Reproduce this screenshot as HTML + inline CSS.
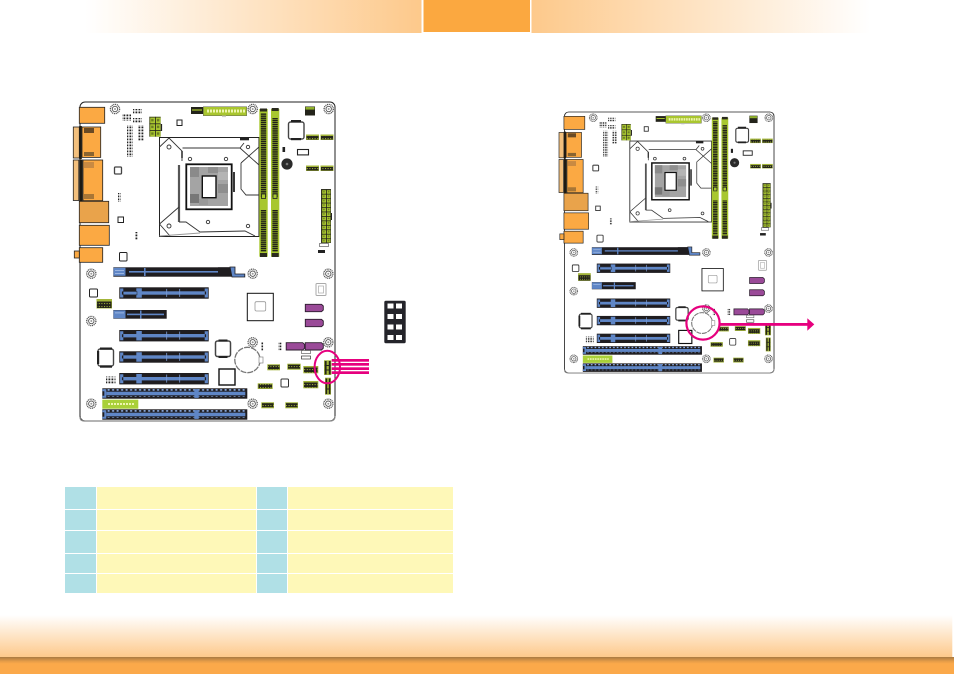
<!DOCTYPE html>
<html><head><meta charset="utf-8"><title>Board connector diagram</title>
<style>html,body{margin:0;padding:0;background:#fff;width:954px;height:674px;overflow:hidden}svg{display:block}</style></head>
<body>
<svg width="954" height="674" viewBox="0 0 954 674" xmlns="http://www.w3.org/2000/svg">
<defs>
<linearGradient id="hl" x1="0" x2="1" y1="0" y2="0"><stop offset="0" stop-color="#fff"/><stop offset="1" stop-color="#fdc98b"/></linearGradient>
<linearGradient id="hr" x1="1" x2="0" y1="0" y2="0"><stop offset="0" stop-color="#fff"/><stop offset="1" stop-color="#fdc98b"/></linearGradient>
<linearGradient id="f1" x1="0" x2="0" y1="0" y2="1"><stop offset="0" stop-color="#fff"/><stop offset="1" stop-color="#fdc98b"/></linearGradient>
<linearGradient id="f2" x1="0" x2="0" y1="0" y2="1"><stop offset="0" stop-color="#a87a42"/><stop offset=".25" stop-color="#e59c48"/><stop offset=".4" stop-color="#fba94a"/><stop offset="1" stop-color="#fba94a"/></linearGradient>
<pattern id="dimm" width="3" height="2.1" patternUnits="userSpaceOnUse"><rect width="3" height="1.5" fill="#1f1f17"/></pattern>
<pattern id="grid" width="4.7" height="4.45" patternUnits="userSpaceOnUse" patternTransform="translate(321.3 189.3)"><rect width="4.7" height="4.45" fill="#a9c62f"/><rect width="4.7" height=".8" fill="#23231a"/><rect width=".8" height="4.45" fill="#23231a"/><rect x="1.8" y="1.7" width="1.6" height="1.4" fill="#6b7d22"/></pattern>
<pattern id="gridc" width="5.7" height="6.67" patternUnits="userSpaceOnUse" patternTransform="translate(149.3 116.7)"><rect width="5.7" height="6.67" fill="#a9c62f"/><rect width="5.7" height=".8" fill="#23231a"/><rect width=".8" height="6.67" fill="#23231a"/><rect x="1.9" y="2.3" width="2.4" height="2.4" fill="#6b7d22"/></pattern>
<pattern id="hdr" width="2.6" height="3" patternUnits="userSpaceOnUse"><rect width="2.6" height="3" fill="#24241a"/><rect x="0" y="0" width="1" height="1.1" fill="#a3b53a"/></pattern>
<pattern id="pins" width="3" height="3" patternUnits="userSpaceOnUse"><rect width="3" height="3" fill="#fff"/><rect x=".5" y=".5" width="1.8" height="1.8" fill="#222"/></pattern>
<pattern id="ticks" width="4.5" height="6" patternUnits="userSpaceOnUse"><rect x=".8" y="0" width="2" height="2.4" fill="#8fb0e8"/></pattern>
<pattern id="wd" width="3" height="3" patternUnits="userSpaceOnUse"><rect width="2" height="3" fill="#eef5b0"/></pattern>
<symbol id="screw" viewBox="-6 -6 12 12" overflow="visible">
<circle r="4.6" fill="none" stroke="#555" stroke-width="1.3" stroke-dasharray="1.1 .7"/><circle r="2.7" fill="none" stroke="#555" stroke-width=".9"/><circle r="1" fill="#999"/>
</symbol>
<g id="hole"><use href="#screw" x="-6" y="-6" width="12" height="12"/></g>
<g id="slotS">
<rect x="0" y="0" width="89.4" height="11.4" fill="#1f1d20"/>
<path d="M.8 1.2H4V4.2H2.6V7.2H4V10.2H.8Z" fill="#5f86c6"/>
<path d="M88.6 1.2H85.4V4.2H86.8V7.2H85.4V10.2H88.6Z" fill="#5f86c6"/>
<rect x="4" y="4" width="81.5" height="3.4" fill="#5f86c6"/>
<rect x="17" y="1" width="5.5" height="9.4" fill="#5f86c6"/>
<rect x="47" y="1.6" width=".8" height="8" fill="#7f9fd8"/><rect x="60" y="1.6" width=".8" height="8" fill="#7f9fd8"/>
</g>
<g id="pciL">
<rect x="0" y="0" width="145" height="10.4" fill="#1f1d20"/>
<rect x="2" y=".8" width="141" height="2" fill="url(#ticks)"/>
<rect x="2" y="7.8" width="141" height="2" fill="url(#ticks)"/>
<rect x="4" y="3.4" width="139" height="3.6" fill="#5f86c6"/>
<path d="M0 1H4V9.4H0V7.4H2V3H0Z" fill="#5f86c6"/>
<rect x="92" y=".8" width="4.4" height="8.8" fill="#5f86c6"/>
</g>
<g id="board">
<rect x="80" y="102" width="255" height="319" rx="5" fill="#fff" stroke="#222" stroke-width="1"/>
<path d="M80 417q0 4 4 4H330q5 0 5-5" fill="none" stroke="#888" stroke-width="1.2"/>

<!-- IO connectors -->
<g stroke="#222" stroke-width=".8">
<rect x="79.3" y="107.3" width="25.4" height="16" fill="#fba943"/>
<rect x="73.3" y="127" width="6" height="31" fill="#f3c07d"/>
<rect x="82" y="127" width="18.7" height="30.4" fill="#fba943"/>
<rect x="73.3" y="160" width="5.5" height="40.5" fill="#f3c07d"/>
<rect x="83" y="160" width="19.7" height="40.7" fill="#fba943"/>
<rect x="79.3" y="201.3" width="29.4" height="21.4" fill="#e9a34b"/>
<rect x="79.3" y="225.3" width="30" height="20" fill="#fba943"/>
<rect x="79.3" y="247.7" width="23.4" height="14.6" fill="#fba943"/>
<rect x="74.3" y="251" width="5" height="7" fill="#fba943"/>
</g>
<rect x="79.2" y="126" width="2.6" height="33" fill="#1e1a12"/><rect x="79.2" y="159.5" width="3.4" height="42" fill="#1e1a12"/>
<rect x="84" y="128" width="10" height="5" fill="#6a4a24"/><rect x="84" y="152" width="10" height="4" fill="#8a6430"/>
<rect x="84" y="162" width="10" height="6" fill="#c98a42"/><rect x="84" y="194" width="10" height="5" fill="#a87636"/>

<!-- small ICs left -->
<g fill="#fff" stroke="#222" stroke-width="1">
<rect x="114.5" y="167" width="7" height="7" rx="1" stroke="#444" stroke-width="1.3"/>
<rect x="118" y="217" width="5.5" height="5.5"/>
<rect x="177" y="120" width="5" height="5.5"/>
<rect x="119.5" y="252.5" width="7.5" height="8.5" rx="1"/>
</g>
<rect x="118" y="193" width="3" height="9" fill="url(#pins)"/>
<rect x="135" y="232" width="3" height="8" fill="url(#pins)"/>
<rect x="133" y="109" width="9" height="4.5" fill="url(#pins)"/>
<rect x="122" y="114" width="9" height="7" fill="url(#pins)"/>
<rect x="133" y="118" width="9" height="5" fill="url(#pins)"/>
<rect x="127" y="125" width="6" height="32" fill="url(#pins)"/>
<rect x="138" y="125" width="5.5" height="16" fill="url(#pins)"/>

<!-- CPU power -->
<rect x="149.3" y="116.7" width="11.4" height="20" fill="url(#gridc)"/>
<rect x="160.7" y="124" width="1.4" height="7" fill="#222"/>

<!-- ATX top -->
<rect x="191" y="107" width="12.3" height="7" fill="#23231a"/><rect x="192" y="109.4" width="10" height="1.2" fill="#a9c62f"/>
<rect x="203.3" y="106.7" width="43.4" height="9" fill="#a9c62f" stroke="#444" stroke-width=".4"/>
<rect x="206" y="109.5" width="39" height="3" fill="url(#wd)"/>
<rect x="222" y="115.7" width="4" height="1.4" fill="#ccc"/>

<!-- Socket -->
<rect x="159.5" y="137.5" width="99.5" height="99" fill="#fff" stroke="#222" stroke-width="1"/>
<g fill="none" stroke="#333" stroke-width=".9">
<path d="M159.5 147L169 138L182 151V161"/>
<path d="M182.5 148H240"/>
<path d="M182 151V158" stroke-width="1.6"/>
<path d="M179 165V222" stroke-width="2.2" stroke="#555"/>
<path d="M159.5 224L179 207M159.5 224L170 236M179 222H186L200 232M200 232L245 231L255 236"/>
<path d="M240 148L259 165M240 148L244 143M241 163L259 147M241 163V189L246 195H259"/>
<path d="M234 172V192" stroke-width="1.8" stroke="#222"/>
<path d="M159.5 236L200 233" stroke="#999"/>
<circle cx="169" cy="147" r="2"/><circle cx="190" cy="159" r="1.7"/><circle cx="226" cy="159" r="1.7"/><circle cx="248" cy="147" r="1.7"/>
<circle cx="169" cy="226" r="2"/><circle cx="208" cy="222" r="1.7"/><circle cx="248" cy="226" r="1.7"/>
</g>
<rect x="240" y="137.5" width="9" height="2.8" fill="#222"/>
<rect x="186.3" y="164.3" width="45.4" height="45" fill="#fff" stroke="#111" stroke-width="1.8"/>
<rect x="190" y="167" width="38" height="39" fill="#a4a4a4"/>
<rect x="190" y="167" width="9" height="10" fill="#8a8a8a"/><rect x="208" y="167" width="10" height="6" fill="#8f8f8f"/><rect x="218" y="172" width="10" height="8" fill="#b4b4b4"/>
<rect x="190" y="194" width="9" height="9" fill="#777"/><rect x="199" y="199" width="9" height="6" fill="#999"/><rect x="218" y="184" width="10" height="9" fill="#8e8e8e"/>
<rect x="202.3" y="176" width="13.7" height="21.7" fill="#fff" stroke="#111" stroke-width="1.4"/>

<!-- DIMMs -->
<g>
<rect x="259.3" y="109" width="8.4" height="147.7" fill="#a8c72f"/>
<rect x="260.8" y="113" width="5.4" height="84" fill="url(#dimm)"/>
<rect x="260.8" y="210" width="5.4" height="42" fill="url(#dimm)"/>
<rect x="261.5" y="194" width="4" height="4.5" fill="#a8c72f" stroke="#222" stroke-width=".8"/>
<rect x="260" y="108.5" width="7" height="3" fill="#2a2a1e"/><rect x="260" y="253" width="7" height="4" fill="#2a2a1e"/>
<rect x="271" y="109" width="8.3" height="147.7" fill="#a8c72f"/>
<rect x="272.4" y="118" width="5.4" height="79" fill="url(#dimm)"/>
<rect x="272.4" y="210" width="5.4" height="42" fill="url(#dimm)"/>
<rect x="273" y="194" width="4" height="4.5" fill="#a8c72f" stroke="#222" stroke-width=".8"/>
<rect x="271.7" y="108" width="7" height="3" fill="#2a2a1e"/><rect x="271.7" y="253" width="7" height="4" fill="#2a2a1e"/>
</g>

<!-- top right -->
<rect x="305" y="106.5" width="10" height="9" fill="#23231a"/><rect x="305.5" y="107" width="9" height="2.6" fill="#8fb02c"/>
<rect x="288.5" y="122" width="15.5" height="17" rx="2" fill="#fff" stroke="#444" stroke-width="1.4"/>
<rect x="291" y="120" width="10" height="2.2" fill="#222"/><rect x="291" y="138" width="10" height="2.2" fill="#222"/>
<g>
<rect x="306" y="134.5" width="13" height="5.5" fill="#a3b53a"/><rect x="306.5" y="136" width="12" height="3.5" fill="url(#hdr)"/>
<rect x="320.5" y="134.5" width="13" height="5.5" fill="#a3b53a"/><rect x="321" y="136" width="12" height="3.5" fill="url(#hdr)"/>
<rect x="306" y="165.5" width="13" height="5.5" fill="#a3b53a"/><rect x="306.5" y="167" width="12" height="3.5" fill="url(#hdr)"/>
<rect x="320.5" y="165.5" width="13" height="5.5" fill="#a3b53a"/><rect x="321" y="167" width="12" height="3.5" fill="url(#hdr)"/>
</g>
<rect x="282.5" y="147" width="2.6" height="5" fill="#222"/>
<rect x="297.5" y="149.5" width="11" height="5.4" fill="#fff" stroke="#222" stroke-width="1.1"/>
<circle cx="287" cy="164" r="5.6" fill="#2a2a2a"/><circle cx="287" cy="164" r="1.3" fill="#777"/>

<!-- 24 pin -->
<rect x="321.3" y="189.3" width="9.4" height="53.4" fill="url(#grid)" stroke="#23231a" stroke-width=".5"/>
<rect x="330.7" y="213" width="1.3" height="7" fill="#222"/>
<rect x="319.5" y="243.5" width="9" height="3" fill="#fff" stroke="#444" stroke-width=".6"/>
<rect x="318" y="250" width="7" height="3" fill="#222"/>

<!-- PCIe slots -->
<rect x="113.3" y="267.3" width="120" height="9.4" fill="#1f1d20"/>
<rect x="113.5" y="267.8" width="12" height="8" fill="#5f86c6"/><rect x="115" y="270" width="9" height=".8" fill="#a9c0e6"/><rect x="115" y="273" width="9" height=".8" fill="#a9c0e6"/>
<rect x="129" y="271" width="104" height="1.6" fill="#5f86c6"/>
<rect x="144" y="268" width="1.6" height="8" fill="#5f86c6"/>
<rect x="218" y="267.3" width="15" height="7" fill="#1f1d20"/>
<path d="M230 267H235V274H244.8V277H232Z" fill="#5f86c6" stroke="#1f1d20" stroke-width=".8"/>
<use href="#slotS" x="119.3" y="287.3"/>
<rect x="123" y="291.5" width="14" height="3.4" fill="none" stroke="#1f1d20" stroke-width=".5"/>
<rect x="113.3" y="310" width="53.4" height="8.7" fill="#1f1d20"/>
<rect x="113.5" y="310.3" width="12" height="8" fill="#5f86c6"/><rect x="115" y="312.5" width="9" height=".8" fill="#a9c0e6"/>
<rect x="127" y="313.6" width="37" height="1.6" fill="#5f86c6"/><rect x="140" y="310.5" width="1.5" height="8" fill="#5f86c6"/>
<use href="#slotS" x="119.3" y="330"/>
<use href="#slotS" x="119.3" y="351.3"/>
<use href="#slotS" x="119.3" y="373"/>
<rect x="106" y="376.5" width="9.5" height="8" fill="url(#pins)"/>
<use href="#pciL" x="102.3" y="388.3"/>
<rect x="102.3" y="399.7" width="36" height="9" fill="#a9d038"/>
<rect x="108" y="403" width="26" height="2" fill="url(#wd)"/>
<use href="#pciL" x="102.3" y="409.3"/>

<!-- Left ICs -->
<rect x="89.5" y="289" width="8" height="8" rx="1" fill="#fff" stroke="#222" stroke-width="1"/>
<rect x="96.5" y="299" width="15.5" height="9.5" fill="#a3b53a"/><rect x="97" y="301.5" width="14.5" height="6.5" fill="url(#hdr)"/>
<rect x="98" y="349" width="15.5" height="17" rx="2" fill="#fff" stroke="#444" stroke-width="1.4"/>
<rect x="100" y="347.5" width="12" height="2.2" fill="#222"/><rect x="100" y="365.5" width="12" height="2.2" fill="#222"/><rect x="97" y="351" width="2.2" height="13" fill="#222"/>

<!-- Chipset -->
<rect x="247.3" y="293.3" width="26" height="27.4" fill="#fff" stroke="#111" stroke-width="1"/>
<rect x="255" y="301.7" width="10.7" height="9.3" rx="1.5" fill="#fff" stroke="#999" stroke-width=".8"/>
<rect x="316" y="283.5" width="10" height="12" rx="1" fill="#fff" stroke="#aaa" stroke-width="1"/><rect x="318.5" y="286" width="5" height="7" fill="none" stroke="#aaa" stroke-width=".7"/>

<!-- SATA -->
<g fill="#9a4a98" stroke="#2b1c2c" stroke-width=".9">
<path d="M305.3 304.3H321.5L323.3 306V310L321.5 311.7H305.3Z"/>
<path d="M305.3 319.3H321.5L323.3 321V325L321.5 326.7H305.3Z"/>
<path d="M286.2 342.7H302.8L304.6 344.5V348.2L302.8 350H286.2Z"/>
<path d="M305.2 342.7H321.5L323.3 344.5V348.2L321.5 350H305.2Z"/>
</g>
<rect x="278" y="342.7" width="4.5" height="7.5" fill="url(#pins)"/>
<rect x="260.5" y="342.5" width="2.6" height="8" fill="url(#pins)"/>
<rect x="301.5" y="350.5" width="9" height="3" fill="#fff" stroke="#666" stroke-width=".7"/>
<rect x="301.5" y="356" width="9" height="3" fill="#fff" stroke="#333" stroke-width=".7"/>

<!-- Battery -->
<circle cx="247.5" cy="360" r="12.7" fill="#fff" stroke="#777" stroke-width="1.3" stroke-dasharray="6 1"/>
<rect x="259" y="357" width="4" height="6" fill="#fff" stroke="#888" stroke-width=".7"/>
<rect x="215.5" y="341" width="15" height="15.5" rx="2" fill="#fff" stroke="#444" stroke-width="1.5"/>
<rect x="218.5" y="339.5" width="9" height="2" fill="#222"/><rect x="218.5" y="356" width="9" height="2" fill="#222"/>
<rect x="219" y="369" width="16" height="16" fill="#fff" stroke="#111" stroke-width="1.4"/>
<rect x="281" y="379" width="7.5" height="8" rx="1" fill="#fff" stroke="#333" stroke-width="1"/>

<!-- Small headers -->
<g fill="#a3b53a">
<rect x="267.3" y="364.3" width="12.7" height="6"/><rect x="287.3" y="363.7" width="13.4" height="6"/>
<rect x="303.3" y="366" width="15" height="7.3"/><rect x="303.3" y="381" width="15" height="7.3"/>
<rect x="257.7" y="383.3" width="15" height="5.7"/><rect x="261.3" y="402.3" width="12.7" height="6"/>
<rect x="285.3" y="402.3" width="12.7" height="6"/><rect x="324" y="360.3" width="7.3" height="14.7"/>
<rect x="325" y="377.7" width="6" height="17"/>
</g>
<g fill="url(#hdr)">
<rect x="268" y="365.3" width="11.5" height="4"/><rect x="288" y="364.7" width="12" height="4"/>
<rect x="304" y="367.5" width="13.5" height="5"/><rect x="304" y="382.5" width="13.5" height="5"/>
<rect x="258.5" y="384.2" width="13.5" height="4"/><rect x="262" y="403.2" width="11.5" height="4"/>
<rect x="286" y="403.2" width="11.5" height="4"/>
</g>
<g fill="#24241a">
<rect x="324.8" y="361" width="1.8" height="13.4"/><rect x="328.8" y="361" width="1.8" height="13.4"/>
<rect x="324.8" y="365" width="5.8" height="1"/><rect x="324.8" y="369.5" width="5.8" height="1"/>
<rect x="325.6" y="378.5" width="1.6" height="15.5"/><rect x="328.8" y="378.5" width="1.6" height="15.5"/>
<rect x="325.6" y="383" width="4.8" height="1"/><rect x="325.6" y="388.5" width="4.8" height="1"/>
</g>

<!-- Screws -->
<use href="#hole" x="115" y="109"/><use href="#hole" x="252.7" y="109"/><use href="#hole" x="328.7" y="109"/>
<use href="#hole" x="91.3" y="273.7"/><use href="#hole" x="252.7" y="273.7"/><use href="#hole" x="328.3" y="273.7"/>
<use href="#hole" x="91.3" y="321"/><use href="#hole" x="252.7" y="342.3"/><use href="#hole" x="328.3" y="342.3"/>
<use href="#hole" x="91.3" y="403.7"/><use href="#hole" x="252.7" y="403.7"/><use href="#hole" x="328.3" y="403.7"/>
</g>
</defs>

<!-- Header -->
<rect x="85" y="0" width="336.5" height="33" fill="url(#hl)"/>
<rect x="423.5" y="0" width="106.5" height="32" fill="#fba840"/>
<rect x="531.5" y="0" width="339" height="33" fill="url(#hr)"/>

<!-- Boards -->
<use href="#board"/>
<g transform="translate(564.5 112) scale(.8216 .818) translate(-80 -102)"><use href="#board"/></g>

<!-- Left callout -->
<ellipse cx="327.3" cy="367" rx="12.7" ry="16.3" fill="none" stroke="#e6007e" stroke-width="2"/>
<g fill="#e6007e">
<rect x="331.7" y="359" width="37.3" height="2.7"/><rect x="331.7" y="363" width="37.3" height="2.7"/>
<rect x="331.7" y="367.3" width="37.3" height="2.7"/><rect x="331.7" y="371.3" width="37.3" height="2.7"/>
</g>
<rect x="384.3" y="300.7" width="21.4" height="42.6" rx="1.5" fill="#24242a"/>
<g fill="#fff">
<rect x="387.5" y="303.5" width="6" height="5"/><rect x="396" y="303.5" width="6" height="5"/>
<rect x="387.5" y="314" width="6" height="5"/><rect x="396" y="314" width="6" height="5"/>
<rect x="387.5" y="324.5" width="6" height="5"/><rect x="396" y="324.5" width="6" height="5"/>
<rect x="387.5" y="335" width="6" height="5"/><rect x="396" y="335" width="6" height="5"/>
</g>

<!-- Right callout -->
<circle cx="703" cy="323" r="16.6" fill="none" stroke="#e6007e" stroke-width="2.2"/>
<rect x="720" y="323" width="88" height="2.8" fill="#e6007e"/>
<path d="M807.3 318.3L814.3 324.4L807.3 330.7Z" fill="#e6007e"/>

<!-- Table -->
<g fill="#b0e0e6">
<rect x="65" y="487" width="31" height="22"/><rect x="65" y="510" width="31" height="20"/><rect x="65" y="531" width="31" height="22"/><rect x="65" y="554" width="31" height="19"/><rect x="65" y="574" width="31" height="19"/>
<rect x="257" y="487" width="30" height="22"/><rect x="257" y="510" width="30" height="20"/><rect x="257" y="531" width="30" height="22"/><rect x="257" y="554" width="30" height="19"/><rect x="257" y="574" width="30" height="19"/>
</g>
<g fill="#fef8b8">
<rect x="97" y="487" width="159" height="22"/><rect x="97" y="510" width="159" height="20"/><rect x="97" y="531" width="159" height="22"/><rect x="97" y="554" width="159" height="19"/><rect x="97" y="574" width="159" height="19"/>
<rect x="288" y="487" width="165" height="22"/><rect x="288" y="510" width="165" height="20"/><rect x="288" y="531" width="165" height="22"/><rect x="288" y="554" width="165" height="19"/><rect x="288" y="574" width="165" height="19"/>
</g>

<!-- Footer -->
<rect x="0" y="615" width="952.3" height="42" fill="url(#f1)"/>
<rect x="0" y="657" width="954" height="17" fill="url(#f2)"/>
</svg>
</body></html>
